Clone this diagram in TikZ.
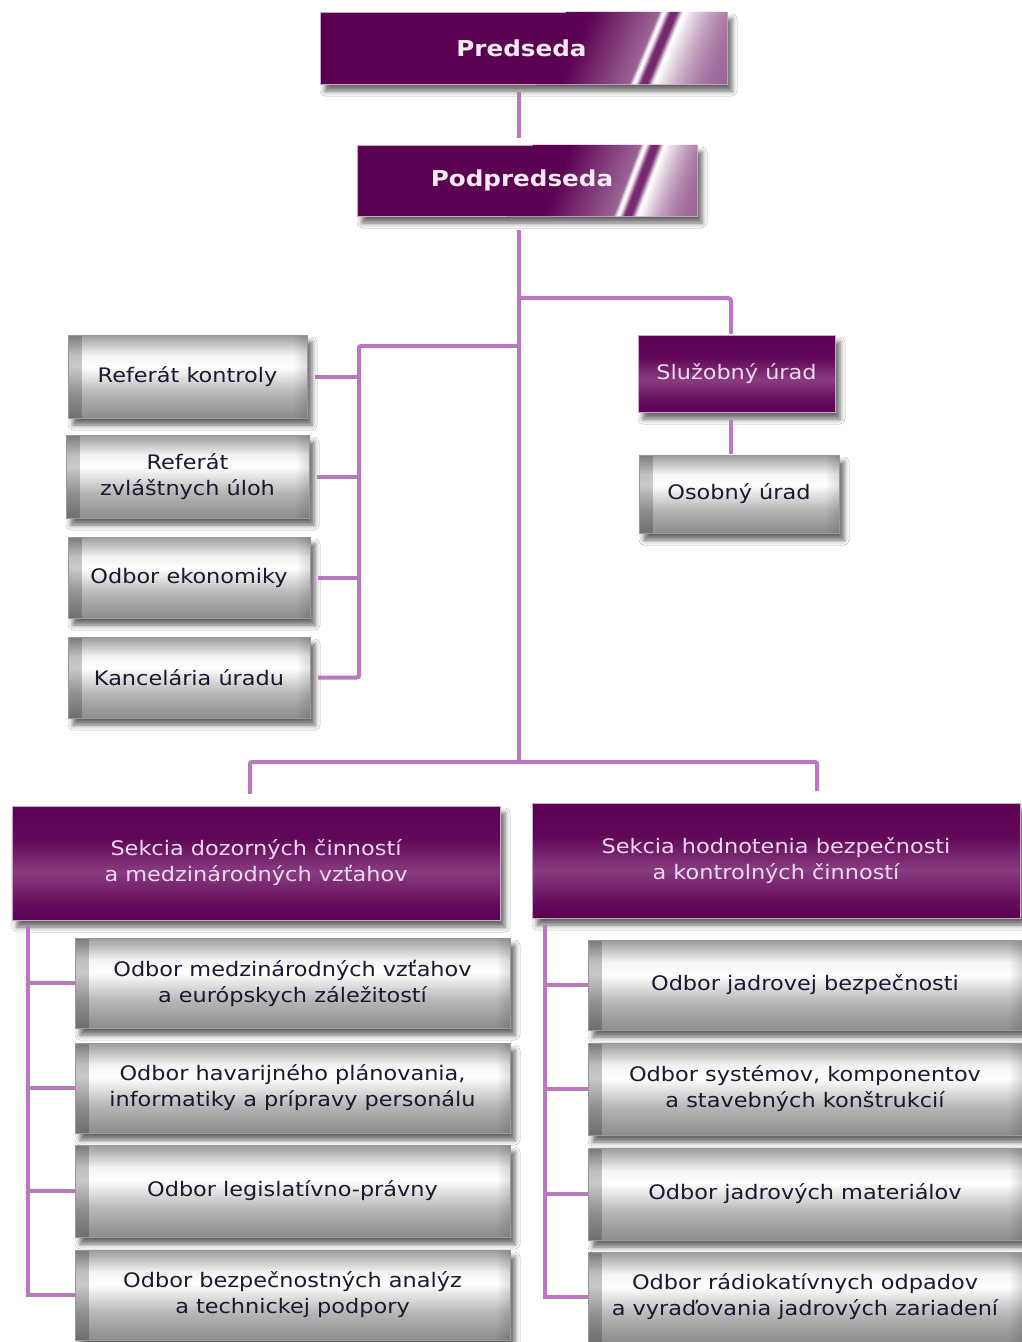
\documentclass[tikz,border=0pt]{standalone}
\usepackage{fontspec}
\setmainfont{DejaVu Sans}[FakeStretch=1.12]
\usetikzlibrary{shadows,shadows.blur,calc,fadings}
\definecolor{purp}{RGB}{92,0,82}
\definecolor{purpl}{RGB}{136,60,128}
\definecolor{conncol}{RGB}{184,120,192}
\definecolor{txtd}{RGB}{25,25,50}
\definecolor{txtl}{RGB}{240,218,242}
\pgfdeclareverticalshading{grayb}{100bp}{color(0bp)=(gray!90); color(25bp)=(gray!90); color(40bp)=(gray!58); color(56bp)=(white); color(63bp)=(white!90!gray); color(75bp)=(gray!78); color(100bp)=(gray!78)}
\pgfdeclareverticalshading{purpb}{100bp}{color(0bp)=(purp); color(25bp)=(purp); color(32bp)=(purp!80!purpl); color(46bp)=(purpl); color(60bp)=(purp!85!purpl); color(75bp)=(purp); color(100bp)=(purp)}
\pgfdeclarehorizontalshading{edgeL}{100bp}{color(0bp)=(black!55); color(25bp)=(black!55); color(75bp)=(white); color(100bp)=(white)}
\tikzfading[name=fadeR, left color=transparent!0, right color=transparent!100]
\tikzfading[name=fadeL, left color=transparent!100, right color=transparent!0]
\newcommand\bx[7]{\node[#6, minimum width={#4-#2}, minimum height={#5-#3}] (#1) at ({(#2+#4)/2},{(#3+#5)/2}) {#7};}
% #1 node, #2 offset of the stripes from the right edge, #3 slant over the height
\newcommand\mystripes[3]{%
  \begin{scope}
    \clip (#1.north west) rectangle (#1.south east);
    \foreach \d in {0,1.5,...,190}{%
      \pgfmathsetmacro\da{92-#2}%
      \pgfmathsetmacro\db{72-#2}%
      \pgfmathsetmacro\ramp{\d<\db ? 40+60*(\d/\db)^2 : (\d>\da ? max(0,42*(\da+75-\d)/75) : 16)}%
      \pgfmathsetmacro\ga{100*exp(-((\d-\da)/5)^2)}%
      \pgfmathsetmacro\gb{100*exp(-((\d-\db)/5.5)^2)}%
      \pgfmathsetmacro\w{min(100,max(\ramp,\ga,\gb))}%
      \fill[white!\w!purp] ([xshift=-\d pt-2pt]#1.south east) -- ([xshift=-\d pt]#1.south east)
        -- ([xshift=-\d pt+#3 pt]#1.north east) -- ([xshift=-\d pt-2pt+#3 pt]#1.north east) -- cycle;
    }
  \end{scope}}
\begin{document}
\begin{tikzpicture}[x=1pt,y=-1pt,
  conn/.style={draw=conncol, line width=4pt},
  base/.style={rectangle, inner sep=0pt, align=center, font=\fontsize{20}{26}\selectfont,
    blur shadow={shadow xshift=5pt, shadow yshift=-7pt, shadow blur radius=5pt, shadow opacity=60}},
  graybox/.style={base, draw=gray!80, shading=grayb, text=txtd,
    path picture={
      \fill[black, opacity=0.22, path fading=fadeR] ([xshift=-6pt]path picture bounding box.south west) rectangle ([xshift=14pt]path picture bounding box.north west);
      \fill[black, opacity=0.18, path fading=fadeL] ([xshift=-14pt]path picture bounding box.south east) rectangle ([xshift=6pt]path picture bounding box.north east);
    }},
  purpbox/.style={base, draw=purpl!45!white, shading=purpb, text=txtl},
  headbox/.style={base, fill=purp, draw=purpl!45!white},
  headtext/.style={font=\fontsize{22}{26}\selectfont\bfseries, text=white!92!purp},
]
\useasboundingbox[fill=white] (0,0) rectangle (1022,1342);

\bx{pred}{320}{12}{727}{84}{headbox}{}
\bx{podp}{357}{145}{697}{216}{headbox}{}
\mystripes{pred}{0}{30}
\mystripes{podp}{14}{27}
\node[headtext] (predt) at ([xshift=-2pt]pred.center) {Predseda};
\node[headtext] (podpt) at ([xshift=-5pt]podp.center) {Podpredseda};

\bx{sluz}{638}{335}{835}{412}{purpbox}{Služobný úrad}
\bx{osob}{639}{455}{839}{533}{graybox}{Osobný úrad}
\bx{rk}{68}{335}{307}{418}{graybox}{Referát kontroly}
\bx{rz}{66}{435}{309}{518}{graybox}{Referát\\zvláštnych úloh}
\bx{oe}{68}{537}{310}{618}{graybox}{Odbor ekonomiky}
\bx{ku}{68}{637}{310}{718}{graybox}{Kancelária úradu}
\bx{sl}{12}{806}{500}{920}{purpbox}{Sekcia dozorných činností\\a medzinárodných vzťahov}
\bx{sr}{532}{803}{1020}{918}{purpbox}{Sekcia hodnotenia bezpečnosti\\a kontrolných činností}
\bx{l1}{75}{938}{510}{1028}{graybox}{Odbor medzinárodných vzťahov\\a európskych záležitostí}
\bx{l2}{75}{1043}{510}{1133}{graybox}{Odbor havarijného plánovania,\\informatiky a prípravy personálu}
\bx{l3}{75}{1145}{510}{1237}{graybox}{Odbor legislatívno-právny}
\bx{l4}{75}{1250}{510}{1340}{graybox}{Odbor bezpečnostných analýz\\a technickej podpory}
\bx{r1}{588}{940}{1022}{1030}{graybox}{Odbor jadrovej bezpečnosti}
\bx{r2}{588}{1043}{1022}{1135}{graybox}{Odbor systémov, komponentov\\a stavebných konštrukcií}
\bx{r3}{588}{1148}{1022}{1240}{graybox}{Odbor jadrových materiálov}
\bx{r4}{588}{1252}{1022}{1342}{graybox}{Odbor rádiokatívnych odpadov\\a vyraďovania jadrových zariadení}

% connectors
\coordinate (tx) at (519,762);
\coordinate (sx) at (731,0);
\coordinate (bR) at (519,298);
\coordinate (bL) at (519,346);
\coordinate (lx) at (359,346);
\coordinate (dl) at (250,762);
\coordinate (dr) at (817,762);
\coordinate (vl) at (28,0);
\coordinate (vr) at (545,0);

\draw[conn, shorten <=8pt, shorten >=7pt] (pred.south -| tx) -- (podp.north -| tx);
\draw[conn, shorten <=14pt] (podp.south -| tx) -- (tx);
\draw[conn, rounded corners=3pt, shorten >=1pt] (bR) -| (sluz.north -| sx);
\draw[conn, shorten <=8pt, shorten >=1pt] (sluz.south -| sx) -- (osob.north -| sx);
\draw[conn, rounded corners=2pt] (bL) -- (lx) -- (lx |- ku.east) -- ([xshift=8pt]ku.east);
\foreach \n in {rk,rz,oe} \draw[conn] (lx |- \n.east) -- ([xshift=8pt]\n.east);
\draw[conn, rounded corners=2pt, shorten <=12pt, shorten >=12pt] (dl |- sl.north) -- (dl) -- (dr) -- (dr |- sr.north);
\draw[conn, shorten <=5pt] (sl.south -| vl) -- (vl |- l4.west) -- (l4.west);
\foreach \n in {l1,l2,l3} \draw[conn] (vl |- \n.west) -- (\n.west);
\draw[conn, shorten <=7pt] (sr.south -| vr) -- (vr |- r4.west) -- (r4.west);
\foreach \n in {r1,r2,r3} \draw[conn] (vr |- \n.west) -- (\n.west);
\end{tikzpicture}
\end{document}
